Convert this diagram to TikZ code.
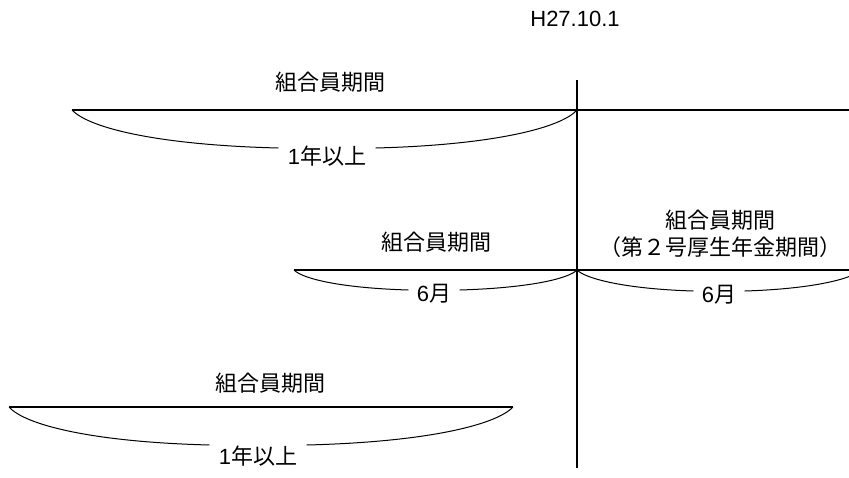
\documentclass[tikz,border=0pt]{standalone}
\usepackage{fontspec}
\setmainfont{Liberation Sans}
\newfontfamily\jpfont{Noto Sans CJK JP}
\begin{document}
\begin{tikzpicture}[x=0.5pt,y=-0.5pt,
  txt/.style={inner sep=0pt,font=\fontsize{11pt}{13.5pt}\selectfont},
  period/.style={line width=0.6pt},
  brace/.style={line width=0.5pt}]
\useasboundingbox (0,0) rectangle (849,477);
\clip (0,0) rectangle (849,477);
\node[txt] (date) at (575,19) {H27.10.1};
\coordinate (vtop) at (577,80);
\coordinate (vbot) at (577,468);
\draw[period] (vtop) -- (vbot);
% first member period
\coordinate (a1) at (72,110);
\coordinate (a2) at (577,110);
\coordinate (a3) at (849,110);
\draw[period] (a1) -- (a3);
\node[txt] (ta) at (330,82) {\jpfont 組合員期間};
\node[txt] (ma) at (327,156) {1{\jpfont 年以上}};
\draw[brace] (a1) .. controls +(17,18) and +(-121,-3) .. ([shift={(-9,-8)}]ma.west);
\draw[brace] (a2) .. controls +(-16,18) and +(117,-3) .. ([shift={(9,-8)}]ma.east);
% six months on both sides
\coordinate (b1) at (294,270);
\coordinate (b2) at (577,270);
\coordinate (b3) at (849,270);
\coordinate (b4) at (861,270);
\draw[period] (b1) -- (b3);
\node[txt] (tb) at (436,242) {\jpfont 組合員期間};
\node[txt,align=center] (tc) at (720,234) {\jpfont 組合員期間\\\jpfont （第２号厚生年金期間）};
\node[txt] (mb) at (434,294) {6{\jpfont 月}};
\node[txt] (mc) at (719,295) {6{\jpfont 月}};
\draw[brace] (b1) .. controls +(9,9) and +(-67,-2) .. ([shift={(-8,-4)}]mb.west);
\draw[brace] (b2) .. controls +(-9,9) and +(68,-2) .. ([shift={(8,-4)}]mb.east);
\draw[brace] (b2) .. controls +(9,9) and +(-67,-2) .. ([shift={(-8,-4)}]mc.west);
\draw[brace] (b4) .. controls +(-9,9) and +(67,-2) .. ([shift={(8,-4)}]mc.east);
% earlier member period
\coordinate (c1) at (9,407);
\coordinate (c2) at (513,407);
\draw[period] (c1) -- (c2);
\node[txt] (td) at (270,383) {\jpfont 組合員期間};
\node[txt] (md) at (258,456) {1{\jpfont 年以上}};
\draw[brace] (c1) .. controls +(16,18) and +(-117,-3) .. ([shift={(-9,-11)}]md.west);
\draw[brace] (c2) .. controls +(-17,18) and +(120,-3) .. ([shift={(9,-11)}]md.east);
\end{tikzpicture}
\end{document}
